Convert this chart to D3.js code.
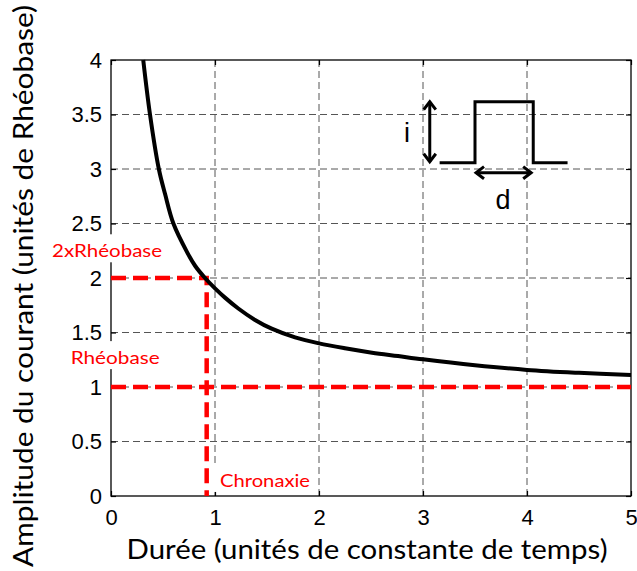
<!DOCTYPE html>
<html><head><meta charset="utf-8">
<script src="https://cdn.jsdelivr.net/npm/d3@7"></script>
<style>body{margin:0;background:#fff} svg{display:block}</style>
</head><body><svg id="c" width="637" height="571"></svg>
<script>
// ---- data ----
const xTicks = [0, 1, 2, 3, 4, 5];
const yTicks = [0, 0.5, 1, 1.5, 2, 2.5, 3, 3.5, 4];
const yTickLabels = ["0", "0.5", "1", "1.5", "2", "2.5", "3", "3.5", "4"];
const curveX = [0.31, 0.375, 0.46, 0.52, 0.60, 0.73, 0.81, 0.904, 1.0, 1.096, 1.224, 1.385, 1.545, 1.77, 2.0, 2.25, 2.51, 2.76, 3.0, 3.5, 4.0, 4.5, 5.0];
const curveY = [4.0, 3.5, 3.0, 2.77, 2.5, 2.24, 2.11, 2.0, 1.905, 1.82, 1.72, 1.615, 1.535, 1.455, 1.40, 1.355, 1.315, 1.284, 1.254, 1.20, 1.157, 1.13, 1.11];
const rheobase = 1, twoRheobase = 2, chronaxie = 0.92;
const pulseX = [3.16, 3.5, 3.5, 4.06, 4.06, 4.39];
const pulseY = [3.058, 3.058, 3.617, 3.617, 3.058, 3.058];
const iArrowX = [3.065, 3.065], iArrowY = [3.617, 3.067];
const dArrowX = [3.51, 4.04], dArrowY = [2.966, 2.966];
const labelTexts = ["2xRhéobase", "Rhéobase", "Chronaxie"];
const xTitle = "Durée (unités de constante de temps)";
const yTitle = "Amplitude du courant (unités de Rhéobase)";

// ---- layout ----
const svg = d3.select("#c");
const L = 111, R = 631, T = 60, B = 496;
const x = d3.scaleLinear().domain([0, 5]).range([L, R]);
const y = d3.scaleLinear().domain([0, 4]).range([B, T]);

// grid
const g = svg.append("g");
g.selectAll(".gx").data(xTicks.slice(1, -1)).join("line")
  .attr("x1", d => x(d)).attr("x2", d => x(d)).attr("y1", T).attr("y2", B)
  .attr("stroke", "#555").attr("stroke-width", 1).attr("stroke-dasharray", "7,4");
g.selectAll(".gy").data(yTicks.slice(1, -1)).join("line")
  .attr("y1", d => y(d)).attr("y2", d => y(d)).attr("x1", L).attr("x2", R)
  .attr("stroke", "#555").attr("stroke-width", 1).attr("stroke-dasharray", "7,4");

// axes via d3 axes (ticks inward)
const fontTick = "'Liberation Sans', Arial, sans-serif";
function styleAxis(sel){ sel.select(".domain").remove(); sel.selectAll("line").attr("stroke","#000").attr("stroke-width",1.2); }
svg.append("g").attr("transform", `translate(0,${B})`)
  .call(d3.axisBottom(x).tickValues(xTicks).tickSize(-5).tickPadding(13).tickFormat(d3.format("d")))
  .call(styleAxis)
  .selectAll("text").attr("font-family", fontTick).attr("font-size", 22).attr("fill", "#000");
svg.append("g").attr("transform", `translate(0,${T})`)
  .call(d3.axisTop(x).tickValues(xTicks).tickSize(-5).tickFormat(""))
  .call(styleAxis);
svg.append("g").attr("transform", `translate(${L},0)`)
  .call(d3.axisLeft(y).tickValues(yTicks).tickSize(-5).tickPadding(9).tickFormat((d, i) => yTickLabels[i]))
  .call(styleAxis)
  .selectAll("text").attr("font-family", fontTick).attr("font-size", 22).attr("fill", "#000");
svg.append("g").attr("transform", `translate(${R},0)`)
  .call(d3.axisRight(y).tickValues(yTicks).tickSize(-5).tickFormat(""))
  .call(styleAxis);

// frame
svg.append("rect").attr("x", L).attr("y", T).attr("width", R - L).attr("height", B - T)
  .attr("fill", "none").attr("stroke", "#000").attr("stroke-width", 1.3);

// red dashed reference lines
const red = "#ff0000";
const lineGen = d3.line().x(d => x(d[0])).y(d => y(d[1]));
svg.append("path").attr("d", lineGen([[0, rheobase], [5, rheobase]]))
  .attr("fill", "none").attr("stroke", red).attr("stroke-width", 4.5).attr("stroke-dasharray", "15,7");
svg.append("path").attr("d", lineGen([[0, twoRheobase], [chronaxie, twoRheobase], [chronaxie, 0]]))
  .attr("fill", "none").attr("stroke", red).attr("stroke-width", 4.5).attr("stroke-dasharray", "15,7");

// curve
const pts = curveX.map((v, i) => [v, curveY[i]]);
svg.append("path").attr("d", d3.line().x(d => x(d[0])).y(d => y(d[1])).curve(d3.curveCatmullRom.alpha(0.5))(pts))
  .attr("fill", "none").attr("stroke", "#000").attr("stroke-width", 4).attr("stroke-linejoin", "round");

// red labels with white background
const labelFont = "Lato, 'Open Sans', sans-serif";
const labelPos = [[-0.567, 2.19, 110], [-0.388, 1.21, 89], [1.048, 0.083, 90]];
labelTexts.forEach((t, i) => {
  const [lx, ly, w] = labelPos[i];
  const bx = x(lx), by = y(ly);
  svg.append("rect").attr("x", bx - 8).attr("y", by - 23).attr("width", w + 16).attr("height", 28).attr("fill", "#fff");
  svg.append("text").attr("x", bx).attr("y", by).text(t)
    .attr("font-family", labelFont).attr("font-size", 17.5).attr("fill", red)
    .attr("textLength", w).attr("lengthAdjust", "spacingAndGlyphs");
});

// pulse inset
const ins = svg.append("g").attr("fill", "none").attr("stroke", "#000").attr("stroke-width", 3);
ins.append("path").attr("d", lineGen(pulseX.map((v, i) => [v, pulseY[i]])));
function dblArrow(x1, y1, x2, y2){
  const X1 = x(x1), Y1 = y(y1), X2 = x(x2), Y2 = y(y2);
  ins.append("line").attr("x1", X1).attr("y1", Y1).attr("x2", X2).attr("y2", Y2);
  const ang = Math.atan2(Y2 - Y1, X2 - X1), hl = 10, hw = 0.65;
  [[X1, Y1, ang + Math.PI], [X2, Y2, ang]].forEach(([px, py, a]) => {
    ins.append("path").attr("d", `M${px - hl*Math.cos(a - hw)},${py - hl*Math.sin(a - hw)}L${px},${py}L${px - hl*Math.cos(a + hw)},${py - hl*Math.sin(a + hw)}`);
  });
}
dblArrow(iArrowX[0], iArrowY[0], iArrowX[1], iArrowY[1]);
dblArrow(dArrowX[0], dArrowY[0], dArrowX[1], dArrowY[1]);
svg.append("text").attr("x", x(2.846)).attr("y", y(3.25)).attr("text-anchor", "middle")
  .attr("font-family", fontTick).attr("font-size", 27).text("i");
svg.append("text").attr("x", x(3.77)).attr("y", y(2.633)).attr("text-anchor", "middle")
  .attr("font-family", fontTick).attr("font-size", 27).text("d");

// axis titles
const titleFont = "Lato, 'Open Sans', sans-serif";
svg.append("text").attr("x", 367).attr("y", 559).attr("text-anchor", "middle")
  .attr("font-family", titleFont).attr("font-size", 27)
  .attr("textLength", 481).attr("lengthAdjust", "spacingAndGlyphs").text(xTitle);
svg.append("text").attr("transform", "translate(33,286) rotate(-90)").attr("text-anchor", "middle")
  .attr("font-family", titleFont).attr("font-size", 27)
  .attr("textLength", 562).attr("lengthAdjust", "spacingAndGlyphs").text(yTitle);
</script></body></html>
